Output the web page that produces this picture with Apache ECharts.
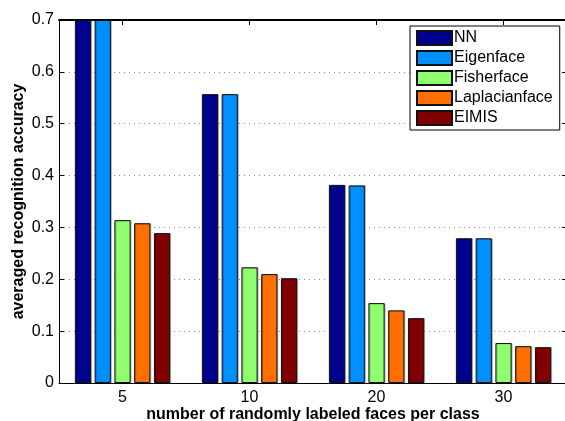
<!DOCTYPE html>
<html>
<head>
<meta charset="utf-8">
<script src="https://cdn.jsdelivr.net/npm/echarts@6/dist/echarts.min.js"></script>
<style>html,body{margin:0;padding:0;background:#fff}#c{width:565px;height:421px}</style>
</head>
<body>
<div id="c"></div>
<script>
var categories = ['5', '10', '20', '30'];
var seriesNames = ['NN', 'Eigenface', 'Fisherface', 'Laplacianface', 'EIMIS'];
var nnValues = [0.70, 0.557, 0.382, 0.279];
var eigenValues = [0.70, 0.557, 0.381, 0.279];
var fisherValues = [0.314, 0.223, 0.154, 0.077];
var laplacianValues = [0.308, 0.210, 0.140, 0.071];
var eimisValues = [0.289, 0.202, 0.125, 0.069];
var yTicks = ['0', '0.1', '0.2', '0.3', '0.4', '0.5', '0.6', '0.7'];
var colors = ['#00008F', '#008FFF', '#8FFF70', '#FF7000', '#800000'];
var allValues = [nnValues, eigenValues, fisherValues, laplacianValues, eimisValues];

var font = '"Liberation Sans", Arial, Helvetica, sans-serif';
var chart = echarts.init(document.getElementById('c'), null, {renderer: 'canvas'});
var series = seriesNames.map(function (n, i) {
  return {
    name: n, type: 'bar', data: allValues[i],
    xAxisIndex: 0, yAxisIndex: 0,
    barGap: '22%', barCategoryGap: '25%',
    clip: true,
    itemStyle: {color: colors[i], borderColor: '#111', borderWidth: 1,
      shadowColor: 'rgba(0,0,0,0.25)', shadowBlur: 0, shadowOffsetX: 1, shadowOffsetY: 0}
  };
});
chart.setOption({
  animation: false,
  textStyle: {fontFamily: font},
  color: colors,
  grid: {left: 59, top: 20, width: 508, height: 363, containLabel: false, outerBoundsMode: 'none'},
  legend: {
    orient: 'vertical', left: 410, top: 26,
    data: seriesNames,
    itemWidth: 35, itemHeight: 14, itemGap: 4,
    backgroundColor: '#fff', borderColor: '#000', borderWidth: 1,
    padding: [4, 7, 4, 6],
    textStyle: {fontFamily: font, fontSize: 16, lineHeight: 16, color: '#000', padding: [0, 0, 0, -3]},
    icon: 'rect'
  },
  xAxis: [{
    type: 'category', data: categories, position: 'bottom',
    axisLine: {onZero: false, lineStyle: {color: '#000', width: 1}},
    axisTick: {show: true, inside: true, alignWithLabel: true, length: 5, lineStyle: {color: '#000'}},
    axisLabel: {color: '#000', fontSize: 16, margin: 7, fontFamily: font},
    name: 'number of randomly labeled faces per class',
    nameLocation: 'middle', nameGap: 24, nameMoveOverlap: false,
    nameTextStyle: {color: '#000', fontSize: 16, fontWeight: 'bold', fontFamily: font}
  }, {
    type: 'category', data: categories, position: 'top', show: true, z: 10,
    axisLine: {show: true, onZero: false, lineStyle: {color: '#000', width: 2}},
    axisTick: {show: true, inside: true, alignWithLabel: true, length: 5, lineStyle: {color: '#000'}},
    axisLabel: {show: false}, splitLine: {show: false}
  }],
  yAxis: [{
    type: 'value', min: 0, max: 0.7, interval: 0.1, position: 'left',
    axisLine: {show: true, onZero: false, lineStyle: {color: '#000', width: 1}},
    axisTick: {show: true, inside: true, length: 5, lineStyle: {color: '#000'}},
    axisLabel: {color: '#000', fontSize: 16, margin: 5, fontFamily: font,
      formatter: function (v) { return yTicks[Math.round(v * 10)]; }},
    splitLine: {show: true, showMinLine: false, showMaxLine: false,
      lineStyle: {color: '#888', type: [1, 4], width: 1}},
    name: 'averaged recognition accuracy',
    nameLocation: 'middle', nameGap: 32, nameRotate: 90, nameMoveOverlap: false,
    nameTextStyle: {color: '#000', fontSize: 16, fontWeight: 'bold', fontFamily: font}
  }, {
    type: 'value', min: 0, max: 0.7, interval: 0.1, position: 'right',
    axisLine: {show: true, onZero: false, lineStyle: {color: '#000', width: 1}},
    axisTick: {show: true, inside: true, length: 5, lineStyle: {color: '#000'}},
    axisLabel: {show: false}, splitLine: {show: false}
  }],
  series: series
});
</script>
</body>
</html>
